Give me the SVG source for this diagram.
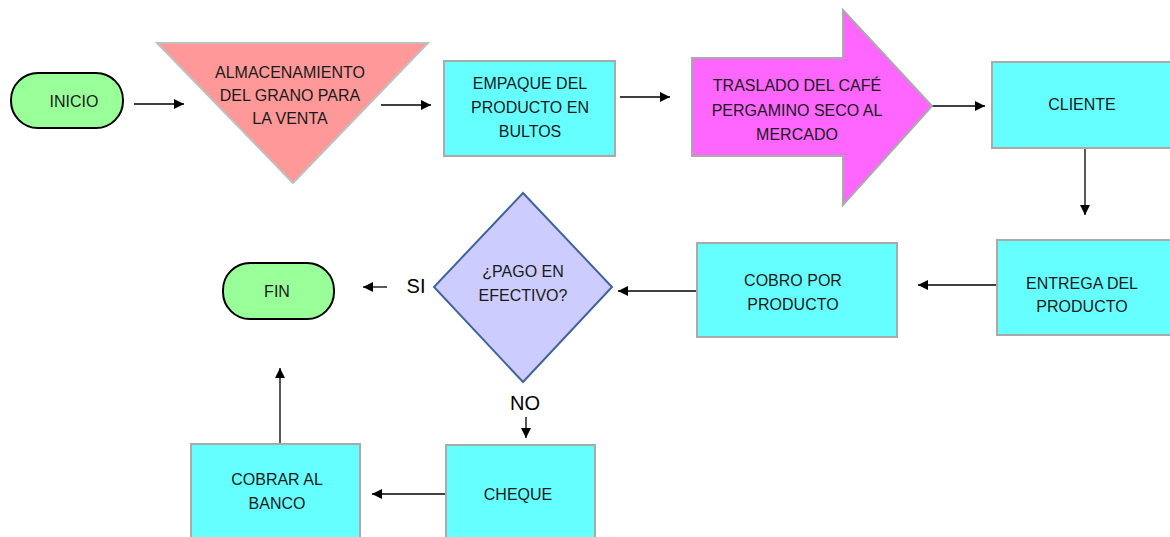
<svg xmlns="http://www.w3.org/2000/svg" width="1170" height="537" viewBox="0 0 1170 537">
<defs>
<marker id="ah" viewBox="0 0 10 10" refX="10" refY="5" markerWidth="10" markerHeight="10" markerUnits="userSpaceOnUse" orient="auto">
<path d="M0,0 L10,5 L0,10 z" fill="#000"/>
</marker>
<style>
.t{font-family:"Liberation Sans",Arial,sans-serif;font-size:16px;fill:#1a1a1a;text-anchor:middle}
.lbl{font-family:"Liberation Sans",Arial,sans-serif;font-size:20px;fill:#000;text-anchor:middle}
.proc{fill:#66ffff;stroke:#aaaaaa;stroke-width:2}
.term{fill:#99ff99;stroke:#000;stroke-width:2}
.c{fill:none;stroke:#000;stroke-width:1.3;marker-end:url(#ah)}
</style>
</defs>
<rect width="1170" height="537" fill="#fff"/>
<g id="connectors">
<line class="c" x1="134" y1="104" x2="184" y2="104"/>
<line class="c" x1="381" y1="105" x2="431" y2="105"/>
<line class="c" x1="620" y1="97" x2="670" y2="97"/>
<line class="c" x1="932" y1="106" x2="985" y2="106"/>
<line class="c" x1="1085" y1="148" x2="1085" y2="215"/>
<line class="c" x1="997" y1="285" x2="918" y2="285"/>
<line class="c" x1="697" y1="291" x2="618" y2="291"/>
<line class="c" x1="387" y1="287" x2="363" y2="287"/>
<line class="c" x1="526" y1="417" x2="526" y2="438"/>
<line class="c" x1="446" y1="494" x2="372" y2="494"/>
<line class="c" x1="280" y1="443" x2="280" y2="368"/>
<text class="lbl" x="416" y="293">SI</text>
<text class="lbl" x="525" y="410">NO</text>
</g>
<g id="inicio">
<rect class="term" x="11" y="73" width="112" height="55" rx="27" ry="27"/>
<text class="t" x="74" y="107">INICIO</text>
</g>
<g id="almacenamiento">
<polygon points="157,43 428,43 293,183" fill="#ff9999" stroke="#c0c0c0" stroke-width="2"/>
<text class="t" x="290" y="78">ALMACENAMIENTO</text>
<text class="t" x="290" y="101">DEL GRANO PARA</text>
<text class="t" x="290" y="124">LA VENTA</text>
</g>
<g id="empaque">
<rect class="proc" x="444" y="61" width="171" height="95"/>
<text class="t" x="530" y="89">EMPAQUE DEL</text>
<text class="t" x="530" y="113">PRODUCTO EN</text>
<text class="t" x="530" y="137">BULTOS</text>
</g>
<g id="traslado">
<polygon points="692,58 843,58 843,10 932,106 843,205 843,156 692,156" fill="#ff66ff" stroke="#aaaaaa" stroke-width="2"/>
<text class="t" x="797" y="91">TRASLADO DEL CAFÉ</text>
<text class="t" x="797" y="116">PERGAMINO SECO AL</text>
<text class="t" x="797" y="140">MERCADO</text>
</g>
<g id="cliente">
<rect class="proc" x="992" y="62" width="182" height="86"/>
<text class="t" x="1082" y="110">CLIENTE</text>
</g>
<g id="entrega">
<rect class="proc" x="997" y="240" width="177" height="95"/>
<text class="t" x="1082" y="289">ENTREGA DEL</text>
<text class="t" x="1082" y="312">PRODUCTO</text>
</g>
<g id="cobro">
<rect class="proc" x="697" y="243" width="200" height="94"/>
<text class="t" x="793" y="286">COBRO POR</text>
<text class="t" x="793" y="310">PRODUCTO</text>
</g>
<g id="pago">
<polygon points="523,193 612,287 523,382 434,287" fill="#ccccff" stroke="#41639c" stroke-width="2"/>
<text class="t" x="523" y="277">¿PAGO EN</text>
<text class="t" x="523" y="301">EFECTIVO?</text>
</g>
<g id="fin">
<rect class="term" x="223" y="263" width="111" height="56" rx="27" ry="27"/>
<text class="t" x="277" y="297">FIN</text>
</g>
<g id="cheque">
<rect class="proc" x="446" y="445" width="149" height="100"/>
<text class="t" x="518" y="500">CHEQUE</text>
</g>
<g id="cobrar">
<rect class="proc" x="191" y="444" width="169" height="100"/>
<text class="t" x="277" y="485">COBRAR AL</text>
<text class="t" x="277" y="509">BANCO</text>
</g>
</svg>
